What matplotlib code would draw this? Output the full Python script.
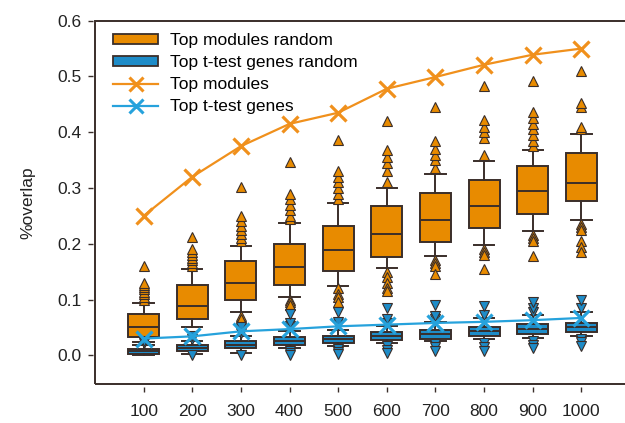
import matplotlib
matplotlib.use("Agg")
import matplotlib.pyplot as plt
from matplotlib.patches import Patch, Rectangle
from matplotlib.lines import Line2D

plt.rcParams['font.family'] = ['Liberation Sans', 'DejaVu Sans']

# ---- data -------------------------------------------------------------
sizes = ["100", "200", "300", "400", "500", "600", "700", "800", "900", "1000"]

# Top modules random (box statistics per size)
mod_q1 = [0.033, 0.065, 0.099, 0.126, 0.152, 0.176, 0.203, 0.228, 0.254, 0.276]
mod_med = [0.051, 0.088, 0.129, 0.159, 0.189, 0.217, 0.242, 0.268, 0.295, 0.309]
mod_q3 = [0.074, 0.126, 0.169, 0.200, 0.232, 0.267, 0.291, 0.314, 0.340, 0.362]
mod_lo = [0.024, 0.051, 0.078, 0.105, 0.125, 0.156, 0.178, 0.197, 0.223, 0.242]
mod_hi = [0.094, 0.154, 0.196, 0.237, 0.273, 0.300, 0.326, 0.349, 0.368, 0.396]
mod_out = [
    [0.100, 0.105, 0.110, 0.113, 0.118, 0.122, 0.126, 0.130, 0.160],
    [0.160, 0.165, 0.170, 0.175, 0.180, 0.185, 0.190, 0.212],
    [0.070, 0.065, 0.205, 0.210, 0.218, 0.225, 0.232, 0.240, 0.249, 0.302],
    [0.100, 0.095, 0.090, 0.245, 0.250, 0.260, 0.270, 0.280, 0.290, 0.347],
    [0.120, 0.110, 0.105, 0.095, 0.280, 0.290, 0.300, 0.310, 0.320, 0.330, 0.386],
    [0.150, 0.140, 0.130, 0.120, 0.115, 0.310, 0.330, 0.345, 0.355, 0.368, 0.420],
    [0.170, 0.165, 0.160, 0.145, 0.335, 0.350, 0.360, 0.370, 0.385, 0.445],
    [0.190, 0.185, 0.180, 0.155, 0.360, 0.390, 0.400, 0.410, 0.422, 0.483],
    [0.215, 0.210, 0.205, 0.178, 0.375, 0.385, 0.395, 0.405, 0.415, 0.425, 0.437, 0.492],
    [0.235, 0.230, 0.225, 0.205, 0.195, 0.185, 0.405, 0.410, 0.445, 0.452, 0.509],
]

# Top t-test genes random (box statistics per size)
tt_q1 = [0.003, 0.008, 0.013, 0.018, 0.022, 0.027, 0.030, 0.035, 0.039, 0.042]
tt_med = [0.008, 0.013, 0.019, 0.025, 0.029, 0.034, 0.038, 0.043, 0.047, 0.050]
tt_q3 = [0.012, 0.018, 0.026, 0.033, 0.035, 0.041, 0.045, 0.051, 0.056, 0.058]
tt_lo = [0.000, 0.003, 0.005, 0.013, 0.017, 0.022, 0.025, 0.029, 0.031, 0.035]
tt_hi = [0.019, 0.025, 0.034, 0.043, 0.046, 0.052, 0.060, 0.067, 0.073, 0.078]
tt_out = [
    [0.022, 0.026],
    [0.000, 0.030, 0.035],
    [0.000, 0.040, 0.045, 0.050],
    [0.008, 0.004, 0.001, 0.052, 0.058, 0.074],
    [0.012, 0.006, 0.002, 0.055, 0.060, 0.078],
    [0.016, 0.010, 0.005, 0.058, 0.065, 0.085],
    [0.020, 0.014, 0.008, 0.065, 0.070, 0.090],
    [0.022, 0.015, 0.008, 0.072, 0.089],
    [0.025, 0.019, 0.013, 0.078, 0.084, 0.095],
    [0.030, 0.023, 0.016, 0.085, 0.100],
]

# Observed overlap of the top-ranked sets
top_modules = [0.250, 0.320, 0.375, 0.415, 0.435, 0.478, 0.499, 0.521, 0.539, 0.550]
top_ttest = [0.030, 0.034, 0.043, 0.047, 0.052, 0.055, 0.058, 0.060, 0.063, 0.067]

# ---- styling ------------------------------------------------------------
ORANGE = "#E88B00"
ORANGE_LINE = "#F0901C"
BLUE = "#1E8CC8"
BLUE_LINE = "#26A2DC"
DARK = "#3A2E2A"
FS = 12.5

fig = plt.figure(figsize=(6.25, 4.23), dpi=100)
ax = fig.add_axes([95 / 625, 1 - 384.3 / 423, 535 / 625, 363.6 / 423])

pos = list(range(1, len(sizes) + 1))


def stats(q1, med, q3, lo, hi, out):
    return [dict(q1=a, med=b, q3=c, whislo=d, whishi=e, fliers=f)
            for a, b, c, d, e, f in zip(q1, med, q3, lo, hi, out)]


def draw_boxes(st, face, marker):
    ax.bxp(st, positions=pos, widths=0.64, capwidths=0.42,
           patch_artist=True, showfliers=True,
           boxprops=dict(facecolor=face, edgecolor=DARK, linewidth=1.4),
           medianprops=dict(color=DARK, linewidth=1.4),
           whiskerprops=dict(color=DARK, linewidth=1.4),
           capprops=dict(color=DARK, linewidth=1.4),
           flierprops=dict(marker=marker, markerfacecolor=face,
                           markeredgecolor=DARK, markersize=6.5,
                           markeredgewidth=0.8))


draw_boxes(stats(mod_q1, mod_med, mod_q3, mod_lo, mod_hi, mod_out), ORANGE, "^")
draw_boxes(stats(tt_q1, tt_med, tt_q3, tt_lo, tt_hi, tt_out), BLUE, "v")

ax.plot(pos, top_modules, color=ORANGE_LINE, lw=1.6, marker="x",
        markersize=11, markeredgewidth=2.3, zorder=5)
ax.plot(pos, top_ttest, color=BLUE_LINE, lw=1.6, marker="x",
        markersize=11, markeredgewidth=2.3, zorder=5)

# ---- axes ---------------------------------------------------------------
ax.set_xlim(0, 11)
ax.set_ylim(-0.052, 0.6)
ax.set_xticks(pos)
ax.set_xticklabels(sizes)
ax.set_yticks([0.0, 0.1, 0.2, 0.3, 0.4, 0.5, 0.6])
ax.set_yticklabels(["0.0", "0.1", "0.2", "0.3", "0.4", "0.5", "0.6"])

for side in ("top", "right"):
    ax.spines[side].set_visible(False)
for side in ("left", "bottom"):
    ax.spines[side].set_position(("outward", 1.8))
    ax.spines[side].set_visible(False)

ax.add_patch(Rectangle((0, 0), 1, 1, transform=ax.transAxes, fill=False,
                       edgecolor=DARK, linewidth=1.4, clip_on=False, zorder=10))

ax.tick_params(axis="both", direction="out", length=3.6, width=1.0,
               color=DARK, labelcolor="#222222", labelsize=FS)
ax.tick_params(axis="x", pad=9)
ax.tick_params(axis="y", pad=4)
ax.set_ylabel("%overlap", fontsize=FS, color="#222222", labelpad=16)

handles = [
    Patch(facecolor=ORANGE, edgecolor=DARK, linewidth=1.3),
    Patch(facecolor=BLUE, edgecolor=DARK, linewidth=1.3),
    Line2D([], [], color=ORANGE_LINE, lw=1.6, marker="x", markersize=10,
           markeredgewidth=2.2),
    Line2D([], [], color=BLUE_LINE, lw=1.6, marker="x", markersize=10,
           markeredgewidth=2.2),
]
labels = ["Top modules random", "Top t-test genes random",
          "Top modules", "Top t-test genes"]
ax.legend(handles, labels, loc="upper left", bbox_to_anchor=(18 / 535, 0.965),
          frameon=False, fontsize=FS, borderpad=0, borderaxespad=0,
          handlelength=2.6, handletextpad=0.7, labelspacing=0.4,
          handleheight=0.5)

fig.savefig("out.png", dpi=100)
